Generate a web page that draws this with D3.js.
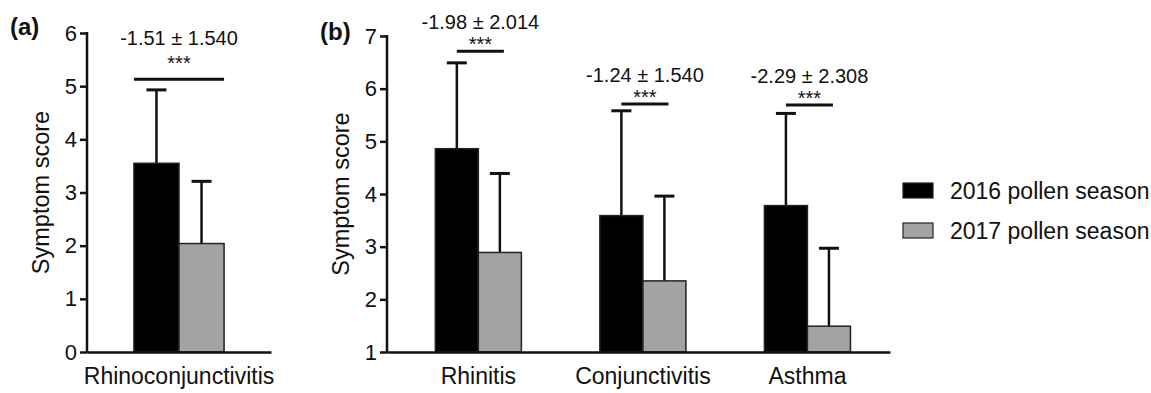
<!DOCTYPE html>
<html>
<head>
<meta charset="utf-8">
<script src="https://cdn.jsdelivr.net/npm/d3@7"></script>
<style>
  body { margin: 0; background: #fff; }
  svg { display: block; font-family: "Liberation Sans", Arial, Helvetica, sans-serif; }
</style>
</head>
<body>
<div id="chart"></div>
<script>
// data
var seasons = ["2016 pollen season", "2017 pollen season"];
var seasonColors = ["#000000", "#a3a3a3"];

var catsA = ["Rhinoconjunctivitis"];
var meanA2016 = [3.55];
var sdA2016 = [1.38];
var meanA2017 = [2.04];
var sdA2017 = [1.17];
var diffA = ["-1.51 \u00b1 1.540"];
var sigA = ["***"];
var sigLevelA = [5.13];

var catsB = ["Rhinitis", "Conjunctivitis", "Asthma"];
var meanB2016 = [4.86, 3.59, 3.78];
var sdB2016 = [1.63, 1.99, 1.75];
var meanB2017 = [2.89, 2.35, 1.49];
var sdB2017 = [1.50, 1.61, 1.48];
var diffB = ["-1.98 \u00b1 2.014", "-1.24 \u00b1 1.540", "-2.29 \u00b1 2.308"];
var sigB = ["***", "***", "***"];
var sigLevelB = [6.71, 5.71, 5.69];

var ticksA = [0, 1, 2, 3, 4, 5, 6];
var ticksB = [1, 2, 3, 4, 5, 6, 7];

var width = 1151, height = 393;
var ink = "#111";

var svg = d3.select("#chart").append("svg")
  .attr("width", width)
  .attr("height", height)
  .attr("viewBox", [0, 0, width, height]);

function panel(opt) {
  var g = svg.append("g");
  var x = d3.scaleBand().domain(opt.cats).range(opt.xRange)
    .paddingInner(opt.padInner).paddingOuter(opt.padOuter).align(opt.align);
  var xs = d3.scaleBand().domain(seasons).range([0, x.bandwidth()]);
  var y = d3.scaleLinear().domain(opt.yDomain).range(opt.yRange);

  var rows = opt.cats.map(function (c, i) {
    return {
      cat: c,
      vals: [
        { s: seasons[0], mean: opt.mean1[i], sd: opt.sd1[i] },
        { s: seasons[1], mean: opt.mean2[i], sd: opt.sd2[i] }
      ],
      diff: opt.diff[i],
      sig: opt.sig[i],
      level: opt.level[i]
    };
  });

  // error bars first, bars cover the lower half
  var grp = g.selectAll("g.cat").data(rows).enter().append("g")
    .attr("class", "cat")
    .attr("transform", function (d) { return "translate(" + x(d.cat) + ",0)"; });

  var bar = grp.selectAll("g.bar").data(function (d) { return d.vals; }).enter().append("g");
  bar.append("line")
    .attr("x1", function (d) { return xs(d.s) + xs.bandwidth() / 2; })
    .attr("x2", function (d) { return xs(d.s) + xs.bandwidth() / 2; })
    .attr("y1", function (d) { return y(d.mean); })
    .attr("y2", function (d) { return y(d.mean + d.sd); })
    .attr("stroke", ink).attr("stroke-width", 2.5);
  bar.append("line")
    .attr("x1", function (d) { return xs(d.s) + xs.bandwidth() / 2 - 10; })
    .attr("x2", function (d) { return xs(d.s) + xs.bandwidth() / 2 + 10; })
    .attr("y1", function (d) { return y(d.mean + d.sd); })
    .attr("y2", function (d) { return y(d.mean + d.sd); })
    .attr("stroke", ink).attr("stroke-width", 3);
  bar.append("rect")
    .attr("x", function (d) { return xs(d.s); })
    .attr("width", xs.bandwidth())
    .attr("y", function (d) { return y(d.mean); })
    .attr("height", function (d) { return y(opt.yDomain[0]) - y(d.mean); })
    .attr("fill", function (d, i) { return seasonColors[i]; })
    .attr("stroke", "#222").attr("stroke-width", 1.5);

  // significance line + texts
  grp.each(function (d) {
    var gg = d3.select(this);
    var x1, x2;
    if (opt.fullSig) {
      x1 = xs(seasons[0]); x2 = xs(seasons[1]) + xs.bandwidth();
    } else {
      x1 = xs(seasons[0]) + xs.bandwidth() / 2;
      x2 = xs(seasons[1]) + xs.bandwidth() / 2 + 4;
    }
    var cx = (x1 + x2) / 2;
    var ly = y(d.level);
    gg.append("line").attr("x1", x1).attr("x2", x2).attr("y1", ly).attr("y2", ly)
      .attr("stroke", ink).attr("stroke-width", 3);
    gg.append("text").attr("x", cx).attr("y", ly - opt.starGap)
      .attr("text-anchor", "middle").attr("font-size", 20).attr("fill", ink)
      .text(d.sig);
    gg.append("text").attr("x", cx).attr("y", ly - opt.labelGap)
      .attr("text-anchor", "middle").attr("font-size", 20).attr("fill", ink)
      .text(d.diff);
  });

  // axes
  var yAxis = g.append("g")
    .attr("transform", "translate(" + opt.xRange[0] + ",0)")
    .call(d3.axisLeft(y).tickValues(opt.ticks).tickFormat(d3.format("d"))
      .tickSize(7).tickSizeOuter(0).tickPadding(3));
  yAxis.selectAll("path,line").attr("stroke", ink).attr("stroke-width", 2.5);
  yAxis.selectAll("text").attr("font-size", 22).attr("fill", ink).attr("font-family", null);
  yAxis.select(".domain").attr("d", "M0," + (y(opt.yDomain[1]) - 1) + "V" + (y(opt.yDomain[0]) + 1));

  var xAxis = g.append("g")
    .attr("transform", "translate(0," + y(opt.yDomain[0]) + ")")
    .call(d3.axisBottom(x).tickSize(0).tickSizeOuter(0).tickPadding(16));
  xAxis.selectAll("path").attr("stroke", ink).attr("stroke-width", 2.5);
  xAxis.selectAll("text").attr("font-size", 23).attr("fill", ink).attr("font-family", null);

  // y title
  g.append("text")
    .attr("transform", "translate(" + opt.titleX + "," + (opt.yRange[0] + opt.yRange[1]) / 2 + ")rotate(-90)")
    .attr("text-anchor", "middle").attr("font-size", 23.5).attr("fill", ink)
    .text("Symptom score");

  // panel letter
  g.append("text").attr("x", opt.letterX).attr("y", opt.letterY)
    .attr("font-size", 24).attr("font-weight", "bold").attr("fill", ink)
    .text(opt.letter);
}

panel({
  cats: catsA, mean1: meanA2016, sd1: sdA2016, mean2: meanA2017, sd2: sdA2017,
  diff: diffA, sig: sigA, level: sigLevelA, ticks: ticksA,
  xRange: [87, 271], padInner: 0.51, padOuter: 0.255, align: 0.5,
  yDomain: [0, 6], yRange: [352, 33],
  fullSig: true, starGap: 9, labelGap: 34,
  titleX: 49, letter: "(a)", letterX: 10, letterY: 35
});

panel({
  cats: catsB, mean1: meanB2016, sd1: sdB2016, mean2: meanB2017, sd2: sdB2017,
  diff: diffB, sig: sigB, level: sigLevelB, ticks: ticksB,
  xRange: [387, 890], padInner: 0.477, padOuter: 0.267, align: 0.55,
  yDomain: [1, 7], yRange: [352, 36],
  fullSig: false, starGap: 0, labelGap: 22,
  titleX: 349, letter: "(b)", letterX: 320, letterY: 40
});

// legend
var legend = svg.append("g").attr("transform", "translate(903,183)");
var li = legend.selectAll("g").data(seasons).enter().append("g")
  .attr("transform", function (d, i) { return "translate(0," + i * 40 + ")"; });
li.append("rect").attr("width", 30).attr("height", 15)
  .attr("fill", function (d, i) { return seasonColors[i]; })
  .attr("stroke", "#222").attr("stroke-width", 1.2);
li.append("text").attr("x", 47).attr("y", 7.5).attr("dy", "0.35em")
  .attr("font-size", 23).attr("fill", ink)
  .text(function (d) { return d; });
</script>
</body>
</html>
